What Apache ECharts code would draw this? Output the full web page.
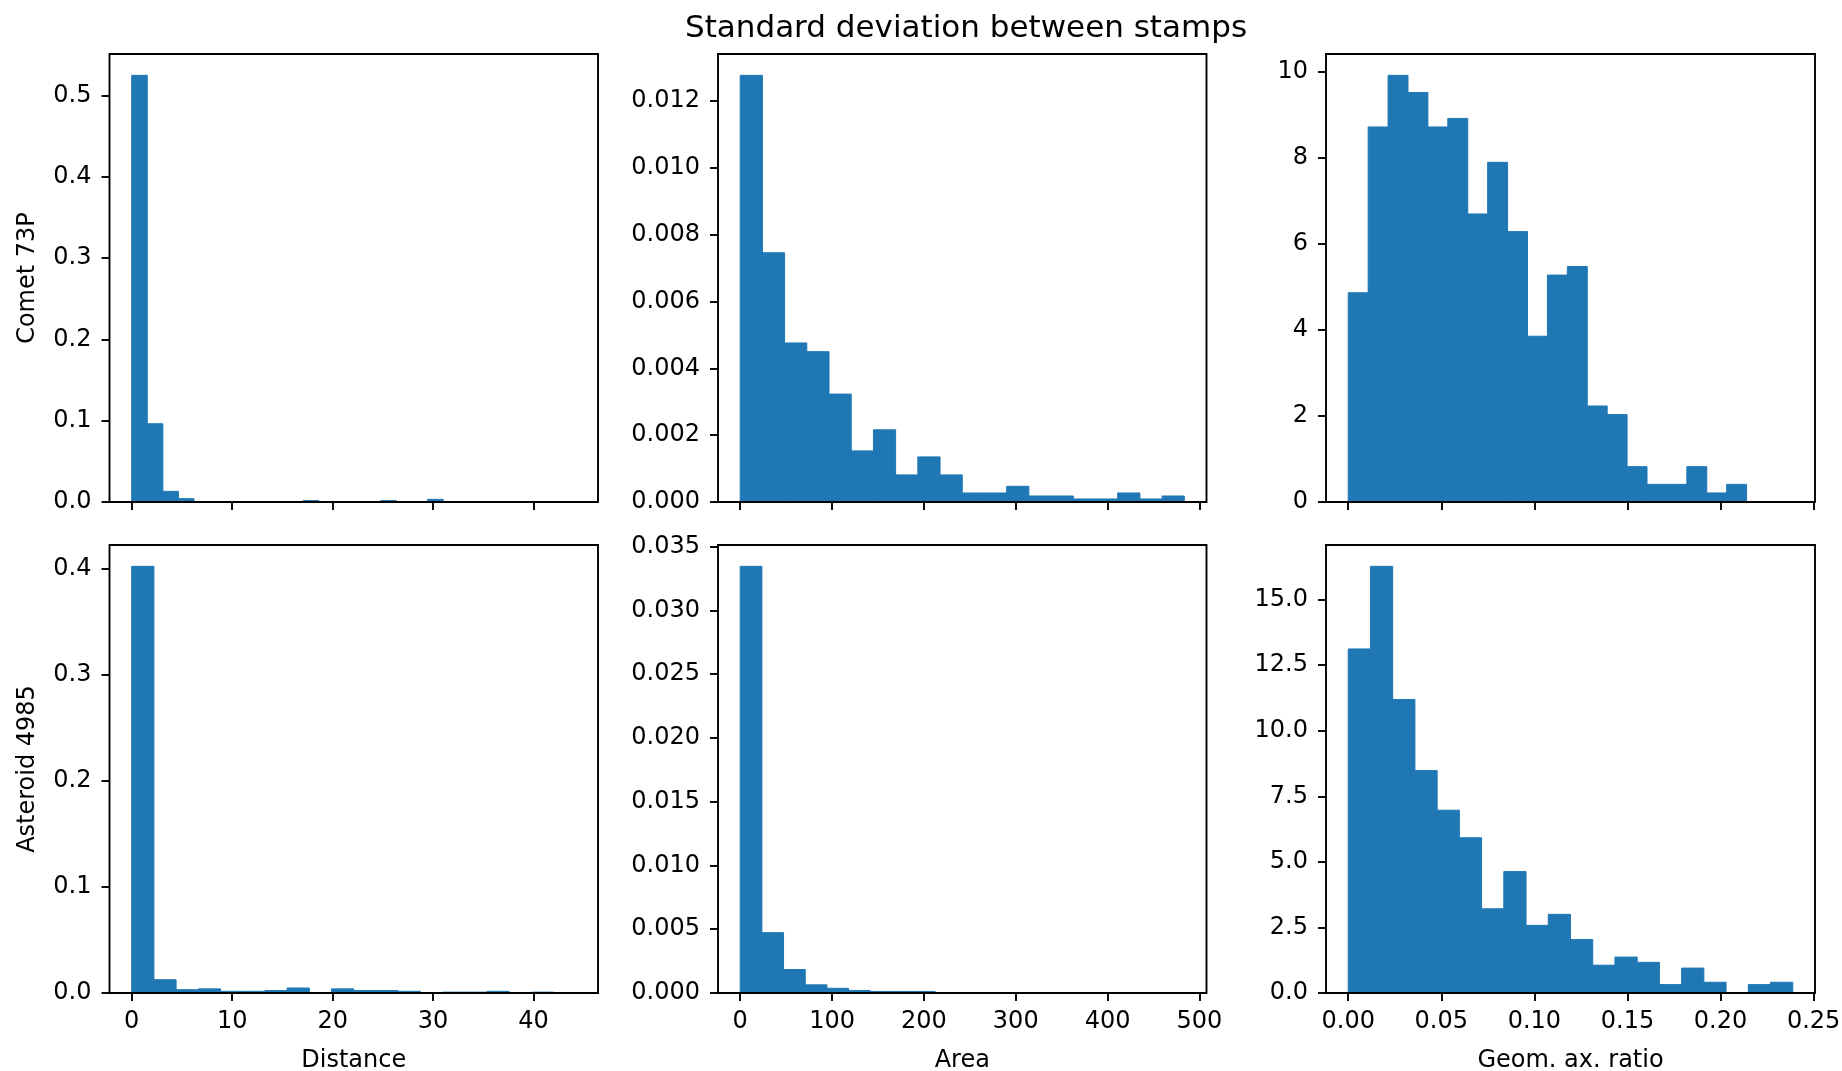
<!DOCTYPE html>
<html>
<head>
<meta charset="utf-8">
<title>Standard deviation between stamps</title>
<script src="https://cdn.jsdelivr.net/npm/echarts@6/dist/echarts.min.js"></script>
<style>
  body { margin: 0; background: #fff; }
  #container { width: 1842px; height: 1071px; }
</style>
</head>
<body>
<div id="container"></div>
<script type="text/javascript">
// histogram densities, 20 bins each, bins start at 0
var cometDistWidth = 1.55;
var cometDist = [0.525, 0.0963, 0.0131, 0.0041, 0, 0, 0, 0, 0, 0,
                 0, 0.0018, 0, 0, 0, 0, 0.0018, 0, 0, 0.0033];
var cometAreaWidth = 24.175;
var cometArea = [0.01277, 0.00746, 0.00476, 0.00450, 0.00323, 0.00153, 0.00216, 0.00081, 0.00135, 0.00081,
                 0.00027, 0.00027, 0.00047, 0.00018, 0.00018, 0.00009, 0.00009, 0.00027, 0.00009, 0.00018];
var cometRatioWidth = 0.0107;
var cometRatio = [4.86, 8.71, 9.91, 9.51, 8.71, 8.91, 6.69, 7.89, 6.28, 3.85,
                  5.27, 5.47, 2.23, 2.03, 0.82, 0.41, 0.41, 0.82, 0.21, 0.41];

var asterDistWidth = 2.21;
var asterDist = [0.402, 0.0125, 0.0031, 0.0039, 0.0016, 0.0016, 0.0023, 0.0047, 0, 0.0039,
                 0.0023, 0.0023, 0.0016, 0, 0.0008, 0.0008, 0.0016, 0, 0.0008, 0];
var asterAreaWidth = 23.6;
var asterArea = [0.03346, 0.00473, 0.00184, 0.00064, 0.00037, 0.0002, 0.00012, 0.00012, 0.00012, 0,
                 0, 0, 0, 0, 0, 0, 0, 0, 0, 0];
var asterRatioWidth = 0.01194;
var asterRatio = [13.12, 16.27, 11.19, 8.48, 6.97, 5.92, 3.21, 4.63, 2.58, 3.00,
                  2.04, 1.06, 1.37, 1.17, 0.32, 0.95, 0.41, 0, 0.32, 0.41];

// tick labels
var distTicks = [0, 10, 20, 30, 40];
var areaTicks = [0, 100, 200, 300, 400, 500];
var ratioTicks = [0, 0.05, 0.10, 0.15, 0.20, 0.25];
var cometDistY = [0, 0.1, 0.2, 0.3, 0.4, 0.5];
var cometAreaY = [0, 0.002, 0.004, 0.006, 0.008, 0.010, 0.012];
var cometRatioY = [0, 2, 4, 6, 8, 10];
var asterDistY = [0, 0.1, 0.2, 0.3, 0.4];
var asterAreaY = [0, 0.005, 0.010, 0.015, 0.020, 0.025, 0.030, 0.035];
var asterRatioY = [0, 2.5, 5.0, 7.5, 10.0, 12.5, 15.0];

var rowNames = ['Comet 73P', 'Asteroid 4985'];
var colNames = ['Distance', 'Area', 'Geom. ax. ratio'];

var FONT = 'DejaVu Sans';
var BLUE = '#1f77b4';

var cols = [
  { left: 109.5, width: 488.5, xMin: -2.21, xMax: 46.41, ticks: distTicks, dec: 0 },
  { left: 718, width: 488.5, xMin: -24.175, xMax: 507.675, ticks: areaTicks, dec: 0 },
  { left: 1326, width: 489, xMin: -0.01194, xMax: 0.25074, ticks: ratioTicks, dec: 2 }
];
var rows = [
  { top: 54, height: 448 },
  { top: 545, height: 448 }
];
var panels = [
  { r: 0, c: 0, h: cometDist, w: cometDistWidth, y: cometDistY, dec: 1 },
  { r: 0, c: 1, h: cometArea, w: cometAreaWidth, y: cometAreaY, dec: 3 },
  { r: 0, c: 2, h: cometRatio, w: cometRatioWidth, y: cometRatioY, dec: 0 },
  { r: 1, c: 0, h: asterDist, w: asterDistWidth, y: asterDistY, dec: 1 },
  { r: 1, c: 1, h: asterArea, w: asterAreaWidth, y: asterAreaY, dec: 3 },
  { r: 1, c: 2, h: asterRatio, w: asterRatioWidth, y: asterRatioY, dec: 1 }
];

var grids = [], xAxes = [], yAxes = [], series = [];

panels.forEach(function (p, i) {
  var col = cols[p.c], row = rows[p.r];
  grids.push({
    left: col.left, top: row.top, width: col.width, height: row.height,
    outerBoundsMode: 'none',
    show: true, borderColor: '#000', borderWidth: 1.9, backgroundColor: 'transparent', z: 5
  });
  xAxes.push({
    type: 'value', gridIndex: i, min: col.xMin, max: col.xMax, position: 'bottom',
    axisLine: { show: false, onZero: false },
    splitLine: { show: false },
    axisTick: { show: true, length: 8, customValues: col.ticks, lineStyle: { color: '#000', width: 1.9 } },
    axisLabel: {
      show: p.r === 1, customValues: col.ticks, margin: 17,
      fontFamily: FONT, fontSize: 24, color: '#000',
      formatter: function (v) { return v.toFixed(col.dec); }
    },
    name: p.r === 1 ? colNames[p.c] : '',
    nameLocation: 'middle', nameGap: 56,
    nameTextStyle: { fontFamily: FONT, fontSize: 24, color: '#000' }
  });
  yAxes.push({
    type: 'value', gridIndex: i, min: 0, max: Math.max.apply(null, p.h) * 1.05, position: 'left',
    axisLine: { show: false, onZero: false },
    splitLine: { show: false },
    axisTick: { show: true, length: 8, customValues: p.y, lineStyle: { color: '#000', width: 1.9 } },
    axisLabel: {
      customValues: p.y, margin: 18,
      fontFamily: FONT, fontSize: 24, color: '#000',
      formatter: function (v) { return v.toFixed(p.dec); }
    },
    name: p.c === 0 ? rowNames[p.r] : '',
    nameLocation: 'middle', nameGap: 70,
    nameTextStyle: { fontFamily: FONT, fontSize: 24, color: '#000' }
  });
  series.push({
    type: 'custom', xAxisIndex: i, yAxisIndex: i,
    data: p.h.map(function (v, k) { return [k * p.w, (k + 1) * p.w, v]; }),
    encode: { x: [0, 1], y: 2 },
    renderItem: function (params, api) {
      var a = api.coord([api.value(0), 0]);
      var b = api.coord([api.value(1), api.value(2)]);
      return {
        type: 'rect',
        shape: { x: a[0], y: b[1], width: b[0] - a[0], height: a[1] - b[1] },
        style: { fill: BLUE, stroke: BLUE, lineWidth: 1 }
      };
    }
  });
});

var myChart = echarts.init(document.getElementById('container'));
var option = {
  animation: false,
  backgroundColor: '#fff',
  title: {
    text: 'Standard deviation between stamps',
    left: 961, top: 8, textAlign: 'center',
    textStyle: { fontFamily: FONT, fontSize: 31, fontWeight: 'normal', color: '#000' }
  },
  grid: grids,
  xAxis: xAxes,
  yAxis: yAxes,
  series: series
};
myChart.setOption(option);
</script>
</body>
</html>
